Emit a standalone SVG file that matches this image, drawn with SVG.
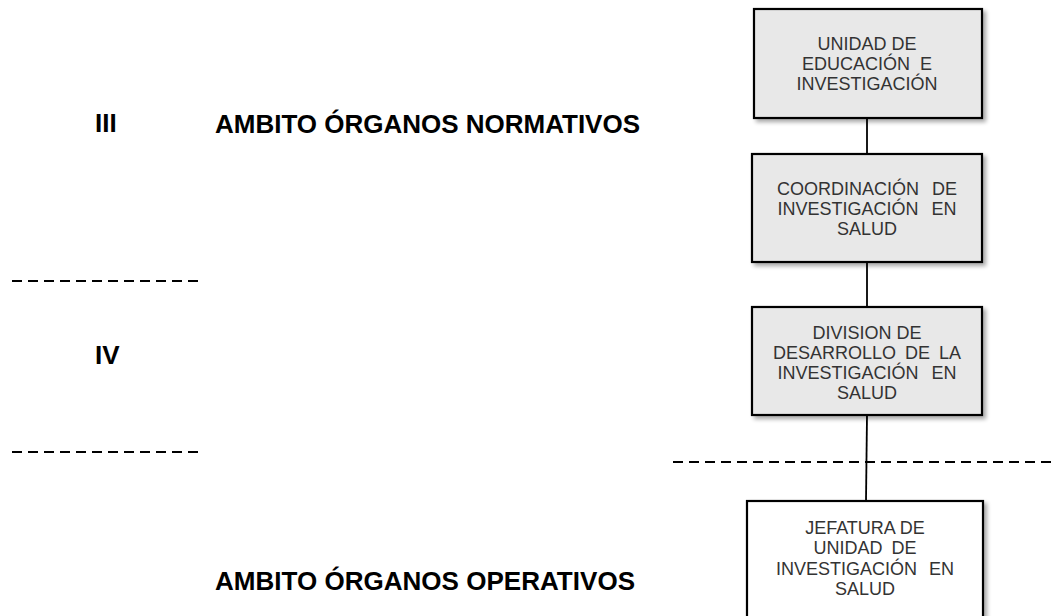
<svg xmlns="http://www.w3.org/2000/svg" width="1053" height="616" viewBox="0 0 1053 616">
<defs>
<filter id="sh" x="-10%" y="-10%" width="125%" height="125%">
<feGaussianBlur in="SourceAlpha" stdDeviation="2"/>
<feOffset dx="3" dy="3" result="b"/>
<feComponentTransfer><feFuncA type="linear" slope="0.35"/></feComponentTransfer>
<feMerge><feMergeNode/><feMergeNode in="SourceGraphic"/></feMerge>
</filter>
</defs>
<style>
.box{stroke:#000;stroke-width:2.2;filter:url(#sh)}
.g{fill:#e8e8e8}
.w{fill:#fff}
.t{font-family:"Liberation Sans",Arial,sans-serif;font-size:18px;fill:#333;text-anchor:middle}
.h{font-family:"Liberation Sans",Arial,sans-serif;font-size:26px;font-weight:bold;fill:#000}
.dash{stroke:#000;stroke-width:2;stroke-dasharray:10 6;fill:none}
.con{stroke:#000;stroke-width:1.8;fill:none}
</style>
<rect width="1053" height="616" fill="#fff"/>
<g id="guides">
<line class="dash" x1="12" y1="281" x2="198" y2="281"/>
<line class="dash" x1="12" y1="452" x2="198" y2="452"/>
<line class="dash" x1="673" y1="462" x2="1053" y2="462"/>
</g>
<g id="labels">
<text class="h" x="95" y="132">III</text>
<text class="h" x="215" y="133" textLength="425" lengthAdjust="spacingAndGlyphs">AMBITO ÓRGANOS NORMATIVOS</text>
<text class="h" x="95" y="364">IV</text>
<text class="h" x="215" y="590" textLength="420" lengthAdjust="spacingAndGlyphs">AMBITO ÓRGANOS OPERATIVOS</text>
</g>
<g id="connectors">
<line class="con" x1="867" y1="118" x2="867" y2="154"/>
<line class="con" x1="867" y1="262" x2="867" y2="307"/>
<line class="con" x1="867" y1="415" x2="866" y2="501"/>
</g>
<g id="n1">
<rect class="box g" x="754" y="9" width="228" height="109"/>
<text class="t" x="867" y="50">UNIDAD DE</text>
<text class="t" x="867" y="70" word-spacing="5">EDUCACIÓN E</text>
<text class="t" x="867" y="90">INVESTIGACIÓN</text>
</g>
<g id="n2">
<rect class="box g" x="752" y="154" width="230" height="108"/>
<text class="t" x="867" y="195" word-spacing="8">COORDINACIÓN DE</text>
<text class="t" x="867" y="215" word-spacing="8">INVESTIGACIÓN EN</text>
<text class="t" x="867" y="235">SALUD</text>
</g>
<g id="n3">
<rect class="box g" x="752" y="307" width="230" height="108"/>
<text class="t" x="867" y="339">DIVISION DE</text>
<text class="t" x="867" y="359" word-spacing="4">DESARROLLO DE LA</text>
<text class="t" x="867" y="379" word-spacing="8">INVESTIGACIÓN EN</text>
<text class="t" x="867" y="399">SALUD</text>
</g>
<g id="n4">
<rect class="box w" x="747" y="501" width="236" height="130"/>
<text class="t" x="865" y="534">JEFATURA DE</text>
<text class="t" x="865" y="554" word-spacing="4">UNIDAD DE</text>
<text class="t" x="865" y="575" word-spacing="7">INVESTIGACIÓN EN</text>
<text class="t" x="865" y="595">SALUD</text>
</g>
</svg>
